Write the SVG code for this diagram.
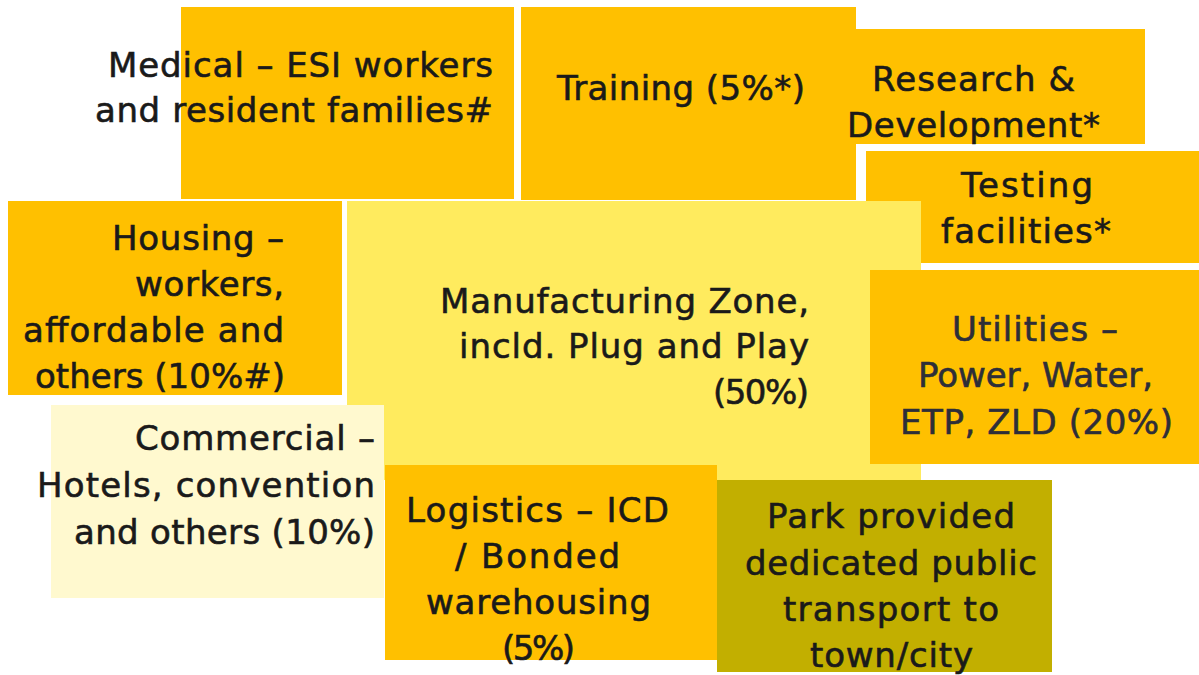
<svg xmlns="http://www.w3.org/2000/svg" width="1199" height="675" viewBox="0 0 1199 675">
<style>
.t{font-family:"DejaVu Sans","Liberation Sans",sans-serif;font-size:34px;fill:#1a1a1a;stroke:#1a1a1a;stroke-width:0.6px}
.e{text-anchor:end}
.m{text-anchor:middle}
.u{fill:#2e2e38;stroke:#2e2e38}
.or{fill:#FFC000}
.ly{fill:#FFEB5E}
.pl{fill:#FFF9CF}
.ol{fill:#C2AF00}
</style>
<rect width="1199" height="675" fill="#ffffff"/>
<g id="medical">
<rect class="or" x="181" y="7" width="333" height="192"/>
<text class="t e" x="493" y="77" textLength="385">Medical – ESI workers</text>
<text class="t e" x="493" y="122" textLength="398">and resident families#</text>
</g>
<g id="training">
<rect class="or" x="521" y="7" width="335" height="193"/>
<text class="t m" x="681" y="100" textLength="248">Training (5%*)</text>
</g>
<g id="research">
<rect class="or" x="856" y="29" width="289" height="115"/>
<text class="t m" x="973.5" y="91" textLength="203">Research &amp;</text>
<text class="t m" x="973.5" y="137" textLength="253">Development*</text>
</g>
<g id="testing">
<rect class="or" x="866" y="151" width="333" height="112"/>
<text class="t m" x="1027" y="197" textLength="132">Testing</text>
<text class="t m" x="1026" y="243" textLength="170">facilities*</text>
</g>
<g id="housing">
<rect class="or" x="8" y="201" width="334" height="194"/>
<text class="t e" x="284" y="250" textLength="172">Housing –</text>
<text class="t e" x="284" y="296" textLength="149">workers,</text>
<text class="t e" x="284" y="342" textLength="261">affordable and</text>
<text class="t e" x="285" y="388" textLength="250">others (10%#)</text>
</g>
<g id="manufacturing">
<rect class="ly" x="347" y="201" width="574" height="279"/>
<text class="t e" x="809" y="313" textLength="369">Manufacturing Zone,</text>
<text class="t e" x="809" y="358" textLength="350">incld. Plug and Play</text>
<text class="t e" x="809" y="404" textLength="96">(50%)</text>
</g>
<g id="utilities">
<rect class="or" x="870" y="270" width="329" height="194"/>
<text class="t u m" x="1035" y="341" textLength="166">Utilities –</text>
<text class="t u m" x="1035.5" y="387" textLength="235">Power, Water,</text>
<text class="t u m" x="1036.5" y="434" textLength="273">ETP, ZLD (20%)</text>
</g>
<g id="commercial">
<rect class="pl" x="51" y="405" width="333" height="193"/>
<text class="t e" x="375" y="450" textLength="240">Commercial –</text>
<text class="t e" x="375" y="497" textLength="338">Hotels, convention</text>
<text class="t e" x="375" y="544" textLength="301">and others (10%)</text>
</g>
<g id="logistics">
<rect class="or" x="385" y="465" width="332" height="195"/>
<text class="t m" x="537.5" y="522" textLength="263">Logistics – ICD</text>
<text class="t m" x="537.5" y="568" textLength="165">/ Bonded</text>
<text class="t m" x="538.5" y="614" textLength="225">warehousing</text>
<text class="t m" x="538.5" y="660" textLength="73">(5%)</text>
</g>
<g id="transport">
<rect class="ol" x="717" y="480" width="335" height="192"/>
<text class="t m" x="891" y="528" textLength="248">Park provided</text>
<text class="t m" x="891" y="575" textLength="292">dedicated public</text>
<text class="t m" x="891" y="621" textLength="216">transport to</text>
<text class="t m" x="891.5" y="667" textLength="163">town/city</text>
</g>
<g id="connectors"/>
</svg>
